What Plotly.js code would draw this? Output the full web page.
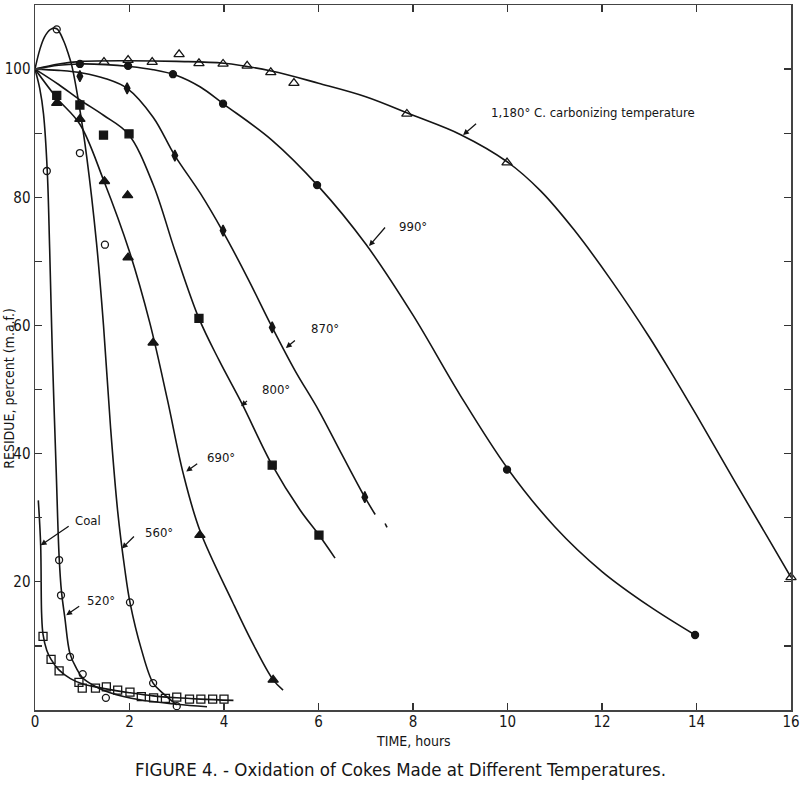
<!DOCTYPE html>
<html><head><meta charset="utf-8">
<script src="https://cdn.plot.ly/plotly-3.0.1.min.js"></script>
<style>body{margin:0;background:#fff}#chart{width:800px;height:798px}</style>
</head><body><div id="chart"></div>
<script>
// ---- data (TIME hours, RESIDUE percent) ----
const xTicks = [0,2,4,6,8,10,12,14,16];
const yTicks = [10,20,30,40,50,60,70,80,90,100];
const yTickText = ['', '20', '', '40', '', '60', '', '80', '', '100'];

// 1,180 C
const c1180_x = [0,0.5,1,2,3,4,5,6,7,8,9,10,10.7,11.4,12.2,13,13.5,14,14.8,15.5,16];
const c1180_y = [100,100.8,101.2,101.3,101.2,100.9,99.7,97.8,95.7,92.8,89.8,85.5,81,75,67,58.2,52.2,46,35.8,27,20.7];
const m1180_x = [1.46,1.97,2.48,3.05,3.47,3.98,4.49,4.99,5.48,7.87,9.99,16];
const m1180_y = [101.1,101.4,101.1,102.3,100.9,100.8,100.5,99.5,97.8,93.0,85.4,20.7];
// 990
const c990_x = [0,0.5,0.95,1.5,2,2.5,3,3.5,4,5,6,7,8,9,10,11,12,13,13.97];
const c990_y = [100,100.6,100.8,100.7,100.4,99.9,99,97.2,94.5,89,81.7,72.7,61.6,49.1,37.7,28.6,21.6,16.2,11.7];
const m990_x = [0.95,1.97,2.92,3.98,5.97,9.99,13.97];
const m990_y = [100.8,100.5,99.2,94.6,81.9,37.5,11.7];
// 870
const c870_x = [0,0.5,1,1.5,1.95,2.5,2.96,3.5,3.98,4.5,5,5.5,6,6.5,6.98,7.2,null,7.41,7.45];
const c870_y = [100,99.8,99.4,98.5,97,92.5,86.5,80.6,74.6,67.4,60,53,46.8,39.8,33.2,30.5,null,29.1,28.5];
const m870_x = [0.95,1.95,2.96,3.98,5.02,6.98];
const m870_y = [98.9,97.0,86.5,74.8,59.7,33.2];
// 800
const c800_x = [0,0.5,0.95,1.45,1.97,2.5,2.96,3.47,3.9,4.38,5.02,5.61,6.01,6.35];
const c800_y = [100,97.6,95.2,92.8,89.9,82,71.7,61.1,54.5,47.8,38.2,31.2,27.3,23.7];
const m800_x = [0.46,0.95,1.45,1.99,3.47,5.02,6.01];
const m800_y = [95.9,94.4,89.7,89.9,61.1,38.2,27.3];
// 690
const c690_x = [0,0.46,0.95,1.45,2.0,2.43,2.8,3.14,3.49,4.19,4.6,5.04,5.25];
const c690_y = [100,95.5,91.4,82.7,71.5,60.4,48.5,36.8,28,16.7,10.5,4.7,3.1];
const m690_x = [0.46,0.95,1.47,1.96,1.97,2.5,3.49,5.04];
const m690_y = [94.7,92.2,82.5,80.3,70.6,57.3,27.3,4.7];
// 560
const c560_x = [0,0.1,0.2,0.33,0.46,0.6,0.7,0.78,0.92,1.1,1.3,1.45,1.6,1.75,1.9,2.01,2.25,2.5,2.71,3.0];
const c560_y = [100,103,105,106.2,106.3,104.5,102.5,100.5,95,86,73,60,44,31,22,16.8,9.5,4.2,2.6,0.8];
const m560_x = [0.46,0.95,1.48,2.01,2.5];
const m560_y = [106.2,86.9,72.6,16.8,4.2];
// 520
const c520_x = [0,0.1,0.18,0.26,0.31,0.37,0.45,0.51,0.56,0.63,0.74,0.87,1.01,1.3,1.59,2.22,3.0,3.64];
const c520_y = [100,97,93,84,72,55,37,24,18.5,14.5,8.8,6.6,5.0,3.6,2.7,1.6,0.9,0.5];
const m520_x = [0.25,0.51,0.55,0.74,1.01,1.5,3.0];
const m520_y = [84.1,23.4,17.9,8.3,5.6,1.9,0.6];
// Coal
const cCoal_x = [0.07,0.12,0.14,0.17,0.25,0.34,0.5,0.75,1,1.5,2,2.5,3,3.5,4.2];
const cCoal_y = [32.7,25.7,15,11.8,9.3,7.9,6.3,4.9,4.1,3.3,2.7,2.2,1.9,1.7,1.5];
const mCoal_x = [0.17,0.34,0.51,0.93,1.0,1.28,1.51,1.75,2.01,2.25,2.51,2.76,3.0,3.27,3.51,3.76,4.0];
const mCoal_y = [11.5,7.9,6.1,4.3,3.4,3.4,3.6,3.1,2.8,2.1,1.9,1.8,2.0,1.7,1.7,1.7,1.7];

// labels: text, left x / y of text, arrow tip x / y, arrow tail offset px
const labelText = ['1,180° C. carbonizing temperature','990°','870°','800°','690°','560°','Coal','520°'];
const labelX = [9.61,7.66,5.8,4.76,3.6,2.29,0.80,1.06];
const labelY = [93.3,75.5,59.5,50.0,39.4,27.7,29.6,17.1];
const tipX = [9.06,7.07,5.31,4.36,3.2,1.84,0.12,0.66];
const tipY = [89.7,72.4,56.5,47.4,37.2,25.2,25.7,14.8];
const tailDX = [16,19,12,9,14,15,31,16];
const tailDY = [-14,-22,-10,-8,-10,-15,-21,-11];

const INK = '#151515';
const FONT = 'DejaVu Sans Condensed, Liberation Sans, Arial, sans-serif';
function curve(x, y){
  return {x:x, y:y, mode:'lines', type:'scatter', line:{color:INK, width:1.6, shape:'spline', smoothing:1}, connectgaps:false, hoverinfo:'skip', showlegend:false};
}
function marks(x, y, sym, size){
  return {x:x, y:y, mode:'markers', type:'scatter', marker:{symbol:sym, size:size, color:INK, line:{color:INK, width:1.3}}, cliponaxis:false, hoverinfo:'skip', showlegend:false};
}
const data = [
  curve(c1180_x,c1180_y), curve(c990_x,c990_y), curve(c870_x,c870_y), curve(c800_x,c800_y),
  curve(c690_x,c690_y), curve(c560_x,c560_y), curve(c520_x,c520_y), curve(cCoal_x,cCoal_y),
  marks(m1180_x,m1180_y,'triangle-up-open',9),
  marks(m990_x,m990_y,'circle',7),
  marks(m870_x,m870_y,'diamond-tall',8),
  marks(m800_x,m800_y,'square',8),
  marks(m690_x,m690_y,'triangle-up',9),
  marks(m560_x,m560_y,'circle-open',7),
  marks(m520_x,m520_y,'circle-open',7),
  marks(mCoal_x,mCoal_y,'square-open',8)
];

const ann = [];
for (let i=0;i<labelText.length;i++){
  ann.push({x:labelX[i], y:labelY[i], xref:'x', yref:'y', text:labelText[i], showarrow:false,
    xanchor:'left', yanchor:'middle', font:{family:FONT, size:13, color:INK}});
  ann.push({x:tipX[i], y:tipY[i], xref:'x', yref:'y', text:' ', showarrow:true, ax:tailDX[i], ay:tailDY[i],
    arrowhead:2, arrowsize:0.9, arrowwidth:1.3, arrowcolor:INK, standoff:0});
}
ann.push({xref:'paper', yref:'paper', x:-0.0344, y:0.457, text:'RESIDUE, percent (m.a.f.)', textangle:-90, showarrow:false,
  xanchor:'center', yanchor:'middle', font:{family:FONT, size:14, color:INK}});
ann.push({xref:'paper', yref:'paper', x:0.5, y:-0.044, text:'TIME, hours', showarrow:false,
  xanchor:'center', yanchor:'middle', font:{family:FONT, size:14, color:INK}});
ann.push({xref:'paper', yref:'paper', x:0.483, y:-0.085, text:'FIGURE 4. - Oxidation of Cokes Made at Different Temperatures.', showarrow:false,
  xanchor:'center', yanchor:'middle', font:{family:FONT, size:18.5, color:INK}});

const layout = {
  width:800, height:798,
  margin:{l:35, r:9, t:5, b:88},
  paper_bgcolor:'#fff', plot_bgcolor:'#fff',
  showlegend:false,
  xaxis:{range:[0,16], tickvals:xTicks, ticktext:xTicks.map(String), ticks:'inside', ticklen:7, tickwidth:1.2, tickcolor:'#333',
    showline:true, linecolor:'#444', linewidth:1.5, mirror:'ticks', showgrid:false, zeroline:false, ticklabelstandoff:-3,
    tickfont:{family:FONT, size:15, color:INK}},
  yaxis:{range:[0,110], tickvals:yTicks, ticktext:yTickText, ticks:'inside', ticklen:7, tickwidth:1.2, tickcolor:'#333',
    showline:true, linecolor:'#444', linewidth:1.5, mirror:'ticks', showgrid:false, zeroline:false, ticklabelstandoff:0,
    tickfont:{family:FONT, size:15, color:INK}},
  annotations:ann
};
Plotly.newPlot('chart', data, layout, {displayModeBar:false, staticPlot:true});
</script></body></html>
